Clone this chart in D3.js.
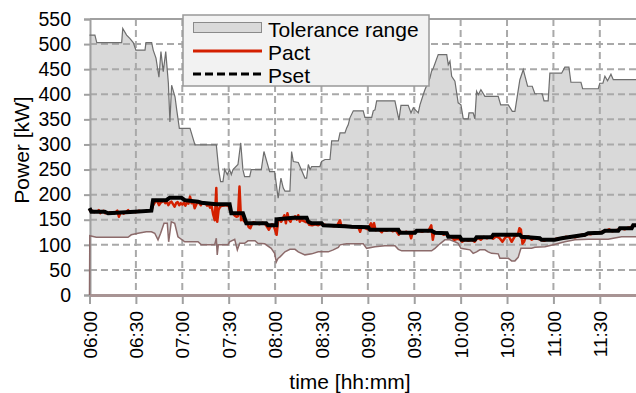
<!DOCTYPE html>
<html>
<head>
<meta charset="utf-8">
<script src="https://cdn.jsdelivr.net/npm/d3@7"></script>
<style>
body { margin: 0; background: #fff; }
svg text { font-family: "Liberation Sans", Arial, sans-serif; fill: #000; }
</style>
</head>
<body>
<div class="container"></div>
<script>
// minutes after 06:00 , kW
var upperBound = [[0,518],[3.5,518],[4.7,503],[20.8,503],[21.5,531],[24,518],[26.2,511],[28.3,503],[30,488],[35.9,488],[36.5,503],[40.2,503],[41.2,488],[43,472],[44.9,434],[46.2,485],[47.7,445],[49.3,485],[51,422],[52,345],[53.1,418],[55.3,395],[56.4,369],[58.1,332],[65,332],[68.2,299],[82,299],[83.7,246],[84.8,226],[86.3,226],[87.4,250],[89.1,240],[90.6,250],[91.7,240],[92.8,250],[96,260],[97.8,303],[99.2,250],[100.3,236],[103.6,236],[104.6,250],[111.1,250],[112.8,286],[116.5,246],[119.7,246],[122,193],[123.8,233],[125.3,213],[126.4,207],[129.6,207],[130.7,286],[131.8,266],[135,264],[139.3,233],[140.4,233],[141.5,260],[142.6,250],[143.7,256],[149,256],[150.1,266],[152.3,270],[155.5,270],[156.6,307],[160.9,307],[162,323],[165.2,323],[166.3,333],[167.3,339],[168.4,353],[170.6,367],[177,367],[178.1,354],[182.5,354],[183.5,367],[184.6,369],[185.7,387],[197.5,387],[200.1,349],[201.4,378],[206.1,378],[207.9,363],[209.4,373],[212.6,363],[213.7,379],[215.8,399],[216.9,409],[220.1,432],[221.2,446],[222.3,452],[225.5,479],[231,479],[232,459],[233.1,466],[234.2,436],[236.3,426],[238.4,383],[240.2,379],[241.7,351],[244.9,351],[245.4,363],[248.1,363],[249.2,351],[250.3,406],[251.4,399],[253.1,409],[255.7,396],[264.3,396],[265.9,379],[270.8,379],[273.4,366],[275.1,366],[278.3,429],[280.5,449],[283.3,416],[286.3,416],[288,401],[292.8,401],[293.9,387],[296.6,387],[297.7,442],[305.3,442],[307.4,454],[310,454],[311.3,424],[317.8,424],[318.9,411],[329,411],[330,422],[332,422],[333.3,436],[335,427],[337.2,440],[338.7,429],[353.4,429]];

var lowerBound = [[0,0],[0.2,118],[4.4,115],[24.9,115],[27,120],[31.4,123],[36.7,126],[40,126],[42.2,123],[44.3,110],[46,123],[48.2,143],[50.3,143],[51.2,106],[52.9,146],[55.1,143],[57.2,116],[61.6,106],[70.2,106],[72.3,100],[80.9,100],[82,113],[82.6,80],[83.3,100],[89.5,100],[90.6,106],[93.9,111],[95.6,90],[97.1,103],[100.3,103],[102.5,108],[107,108],[108.9,103],[113.3,102],[117.5,93],[119.7,83],[120.8,66],[121.9,73],[123.2,76],[126.4,86],[129.6,91],[132.9,91],[135,86],[139.3,80],[143.7,82],[147.9,86],[154.4,86],[157.6,90],[160.9,95],[162,100],[166.3,102],[177,102],[179.2,93],[184.6,96],[191,98],[197.5,98],[199.7,91],[201.9,88],[221.2,88],[223.4,93],[226.6,102],[229.8,110],[233.1,110],[236.3,106],[238.4,103],[240.2,93],[246,90],[248.1,83],[250.3,86],[252.4,90],[255.7,90],[257.8,86],[260,83],[264.3,82],[265.4,73],[270.8,73],[273,68],[275.1,68],[277.2,75],[279,93],[285.9,93],[288,95],[294.5,96],[299.9,100],[307.4,106],[313.9,110],[322.5,111],[335.4,111],[338.7,113],[344.1,116],[353.4,116]];

var pSet = [[0,173],[1.2,166],[9.8,166],[12,163],[29.2,166],[40,168],[41.1,189],[49.7,189],[51.9,194],[59.4,194],[61.6,189],[70.2,186],[72.3,184],[82,181],[90.6,181],[91.7,163],[99.2,163],[101.4,143],[114.3,143],[115.4,139],[120.8,139],[121,151],[131.8,154],[140.4,154],[141.5,146],[143.7,143],[150.1,143],[151.2,139],[165.2,137],[169.5,136],[180.3,135],[181.4,130],[199.7,130],[200.7,124],[210.5,124],[211.6,128],[221.2,128],[223.4,124],[231,123],[232,116],[239.5,116],[240.6,110],[249.2,110],[250.3,115],[260,115],[261.1,120],[278.3,120],[279.4,116],[291.2,113],[292.3,110],[300.9,110],[305.3,113],[311.8,116],[320.4,120],[322.5,123],[331.2,124],[333.3,128],[341.9,128],[343,133],[350.6,133],[351.6,139],[353.4,139]];

var pAct = [[0,170],[1,166],[2,168],[3,165],[4,167],[5,166],[6,169],[7,163],[8,166],[9,168],[10,163],[11,165],[12,162],[13,165],[14,164],[15,165],[16,162],[17,165],[18,168],[19,156],[20,164],[21,165],[22,162],[24,166],[25,169],[26,165],[28,167],[30,165],[32,168],[34,166],[36,167],[38,169],[40,168],[41,178],[42,183],[43,189],[44,186],[45,179],[46,184],[47,186],[48,189],[49,183],[50,186],[51,179],[52,184],[53,186],[54,181],[55,176],[56,183],[57,185],[58,179],[59,183],[60,180],[61,184],[62,178],[63,185],[64,182],[65,196],[66,183],[67,186],[68,173],[69,180],[70,186],[71,183],[72,179],[73,185],[74,182],[75,183],[76,178],[77,181],[78,174],[79,177],[80,160],[81,149],[82,213],[82.6,146],[83.5,170],[84.5,176],[86,178],[88,179],[90,177],[91,168],[92,163],[93,162],[94,158],[95,156],[96,157],[97,216],[98,149],[99,152],[100,147],[101,145],[102,143],[103,135],[104,133],[105,141],[106,145],[108,143],[110,141],[112,144],[114,140],[116,130],[117,136],[118,141],[119,138],[120,130],[121,120],[122,149],[123,151],[124,146],[125,152],[126,159],[127,143],[128,163],[129,150],[130,146],[131,155],[132,152],[133,157],[134,150],[135,159],[136,146],[137,150],[138,148],[140,145],[141,147],[142,140],[144,139],[146,141],[148,139],[150,142],[152,140],[154,138],[156,139],[158,137],[160,138],[162,149],[163,136],[165,138],[167,137],[170,135],[172,136],[174,134],[175,126],[176,136],[178,134],[180,131],[182,143],[183,133],[184,143],[185,129],[187,131],[189,125],[190,130],[192,128],[194,131],[196,127],[198,129],[200,120],[201,126],[203,124],[205,126],[207,123],[208,113],[209,125],[211,127],[213,128],[215,126],[217,129],[219,127],[221,139],[222,110],[223,126],[225,124],[227,125],[229,120],[231,123],[232,118],[234,116],[236,110],[238,112],[240,110],[241,106],[243,110],[245,108],[247,110],[249,106],[251,114],[253,110],[255,116],[257,113],[259,116],[261,112],[263,117],[265,114],[267,106],[269,115],[271,118],[273,106],[275,117],[277,120],[278,133],[279,130],[280,102],[281,106],[282,115],[284,117],[286,110],[288,114],[290,112],[292,110],[294,108],[296,111],[298,110],[300,110],[302,112],[304,113],[306,112],[308,116],[310,114],[312,117],[314,115],[316,117],[318,120],[320,118],[322,122],[324,121],[326,124],[328,123],[330,125],[332,126],[334,128],[336,131],[338,127],[340,129],[342,130],[344,133],[346,131],[348,134],[350,135],[352,139],[353.4,139]];

var yTicks = [0,50,100,150,200,250,300,350,400,450,500,550];
var xTicks = [0,30,60,90,120,150,180,210,240,270,300,330];
var xLabels = ["06:00","06:30","07:00","07:30","08:00","08:30","09:00","09:30","10:00","10:30","11:00","11:30"];
var legendNames = ["Tolerance range","Pact","Pset"];

var W = 636, H = 393;
var svg = d3.select(".container").append("svg").attr("width",W).attr("height",H);

var x = d3.scaleLinear().domain([0,353.4]).range([89.5,636]);
var y = d3.scaleLinear().domain([0,550]).range([295,19]);

var gridCol = "#a9a9a9";

// tolerance band: gray to upper, then white under lower
svg.append("path")
	.datum(upperBound)
	.attr("d", d3.area().x(function(d){return x(d[0]);}).y0(y(0)).y1(function(d){return y(d[1]);}))
	.style("fill","#d9d9d9");
svg.append("path")
	.datum(lowerBound)
	.attr("d", d3.area().x(function(d){return x(d[0]);}).y0(y(0)).y1(function(d){return y(d[1]);}))
	.style("fill","#fff");

// grid
svg.selectAll(".hgrid").data(yTicks.slice(1,-1)).enter().append("line")
	.attr("x1",90).attr("x2",W).attr("y1",function(d){return y(d);}).attr("y2",function(d){return y(d);})
	.style("stroke",gridCol).style("stroke-width",2).style("stroke-dasharray","7,4");
svg.selectAll(".vgrid").data(xTicks.slice(1)).enter().append("line")
	.attr("y1",y(550)).attr("y2",y(0)).attr("x1",function(d){return x(d);}).attr("x2",function(d){return x(d);})
	.style("stroke",gridCol).style("stroke-width",2).style("stroke-dasharray","7,4");

// axes
var yAxis = svg.append("g").attr("transform","translate(90,0)")
	.call(d3.axisLeft(y).tickValues(yTicks).tickSize(6).tickPadding(13));
yAxis.select(".domain").style("stroke","#a0a0a0").style("stroke-width",2);
yAxis.selectAll(".tick line").style("stroke","#a0a0a0").style("stroke-width",2);
yAxis.selectAll("text").style("font-size","19.5px").style("font-family","Liberation Sans, Arial, sans-serif");

var xAxis = svg.append("g").attr("transform","translate(0,295)")
	.call(d3.axisBottom(x).tickValues(xTicks).tickSize(9).tickFormat(function(d,i){return xLabels[i];}));
xAxis.select(".domain").remove();
xAxis.selectAll(".tick line").style("stroke","#a0a0a0").style("stroke-width",2);
xAxis.selectAll("text")
	.style("font-size","19px").style("font-family","Liberation Sans, Arial, sans-serif")
	.attr("text-anchor","end").attr("transform","rotate(-90)")
	.attr("x",-16).attr("y",0).attr("dy","0.35em");

svg.append("line").attr("x1",90).attr("x2",W).attr("y1",19).attr("y2",19)
	.style("stroke","#a0a0a0").style("stroke-width",2);
svg.append("line").attr("x1",90).attr("x2",W).attr("y1",295.5).attr("y2",295.5)
	.style("stroke","#a89494").style("stroke-width",3);

// series lines
var line = d3.line().x(function(d){return x(d[0]);}).y(function(d){return y(d[1]);});
svg.append("path").datum(upperBound).attr("d",line)
	.style("fill","none").style("stroke","#6e6e6e").style("stroke-width",1.2);
svg.append("path").datum(lowerBound).attr("d",line)
	.style("fill","none").style("stroke","#8c6b6b").style("stroke-width",1.5);
svg.append("path").datum(pAct).attr("d",line)
	.style("fill","none").style("stroke","#d42000").style("stroke-width",2.5).style("stroke-linejoin","round");
svg.append("path").datum(pSet).attr("d",line)
	.style("fill","none").style("stroke","#000").style("stroke-width",4);

// titles
svg.append("text").attr("x",350).attr("y",389).attr("text-anchor","middle")
	.style("font-size","21px").text("time [hh:mm]");
svg.append("text").attr("transform","translate(29,150) rotate(-90)").attr("text-anchor","middle")
	.style("font-size","21px").text("Power [kW]");

// legend
var lg = svg.append("g");
lg.append("rect").attr("x",183).attr("y",15).attr("width",246).attr("height",71)
	.style("fill","#f2f2f2").style("stroke","#999").style("stroke-width",1.5);
lg.append("rect").attr("x",193.5).attr("y",22.5).attr("width",68).attr("height",10)
	.style("fill","#d9d9d9").style("stroke","#8a8a8a").style("stroke-width",1);
lg.append("line").attr("x1",193).attr("x2",262).attr("y1",51).attr("y2",51)
	.style("stroke","#d42000").style("stroke-width",3);
lg.append("line").attr("x1",193).attr("x2",262).attr("y1",74).attr("y2",74)
	.style("stroke","#000").style("stroke-width",3).style("stroke-dasharray","8,4");
lg.selectAll(".lt").data(legendNames).enter().append("text")
	.attr("x",268).attr("y",function(d,i){return 36.5 + i*23.3;})
	.style("font-size","21px").text(function(d){return d;});
</script>
</body>
</html>
